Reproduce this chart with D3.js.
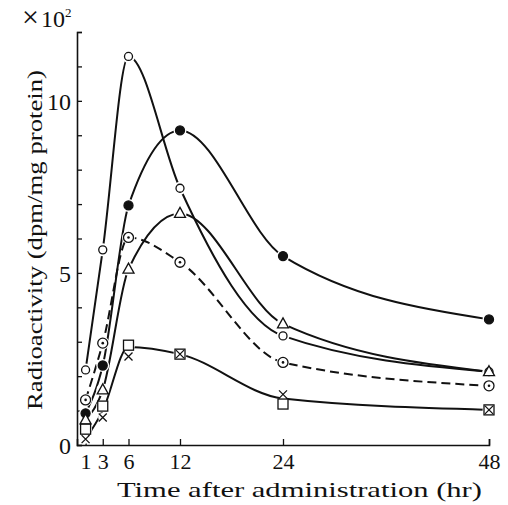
<!DOCTYPE html>
<html>
<head>
<meta charset="utf-8">
<script src="https://cdn.jsdelivr.net/npm/d3@7"></script>
<style>
  body { margin: 0; background: #fff; }
  svg text, svg tspan { font-family: "Liberation Serif", "DejaVu Serif", serif; fill: #111; }
</style>
</head>
<body>
<div class="canvas"></div>
<script>
// time points (hr) and values (x10^2 dpm/mg protein)
const hours = [1, 3, 6, 12, 24, 48];
const openCircle   = [2.18, 5.67, 11.29, 7.46, 3.17, 2.13];
const filledCircle = [0.92, 2.31, 6.96, 9.14, 5.49, 3.65];
const triangle     = [0.73, 1.60, 5.11, 6.73, 3.52, 2.13];
const dottedCircle = [1.31, 2.96, 6.03, 5.31, 2.40, 1.72];
const square       = [0.46, 1.13, 2.90, 2.64, 1.19, 1.02];
const cross        = [0.17, 0.80, 2.57, 2.64, 1.47, 1.02];
// one hand-fitted curve is drawn for both square and cross
const squareCrossFit = [0.17, 1.00, 2.85, 2.64, 1.35, 1.02];

const xTicks = [1, 3, 6, 12, 24, 48];
const yTicks = [0, 1, 2, 3, 4, 5, 6, 7, 8, 9, 10, 11, 12];
const yLabels = [0, 5, 10];

const width = 508, height = 505;

const svg = d3.select('.canvas')
    .append('svg')
    .attr('width', width)
    .attr('height', height);

// scales
const x = d3.scaleLinear().domain([0, 48]).range([77, 489]);
const y = d3.scaleLinear().domain([0, 12]).range([445, 32]);

// axes
const xAxis = d3.axisBottom(x).tickValues(xTicks).tickSize(-6).tickPadding(8).tickFormat(d3.format('d'));
const yAxis = d3.axisLeft(y).tickValues(yTicks).tickSize(-5).tickPadding(6)
    .tickFormat(d => yLabels.includes(d) ? d : '');

const xAxisGroup = svg.append('g')
    .attr('transform', `translate(0, ${y(0)})`)
    .call(xAxis);
const yAxisGroup = svg.append('g')
    .attr('transform', `translate(${x(0)}, 0)`)
    .call(yAxis);

[xAxisGroup, yAxisGroup].forEach(g => {
    g.attr('font-family', '"Liberation Serif", serif');
    g.select('.domain').attr('stroke', '#111').attr('stroke-width', 1.6);
    g.selectAll('.tick line').attr('stroke', '#111').attr('stroke-width', 1.3);
    g.selectAll('text').attr('fill', '#111');
});
xAxisGroup.attr('font-size', 22);
yAxisGroup.attr('font-size', 24);
yAxisGroup.selectAll('text').attr('dy', '0.35em');

// axis titles
svg.append('text')
    .attr('x', 117)
    .attr('y', 497)
    .attr('font-size', 22)
    .attr('textLength', 365)
    .attr('lengthAdjust', 'spacingAndGlyphs')
    .text('Time after administration (hr)');

svg.append('text')
    .attr('transform', 'translate(42, 410) rotate(-90)')
    .attr('font-size', 22)
    .attr('textLength', 340)
    .attr('lengthAdjust', 'spacingAndGlyphs')
    .text('Radioactivity (dpm/mg protein)');

// x10^2 unit
const unit = svg.append('text')
    .attr('x', 22)
    .attr('y', 27);
unit.append('tspan').attr('font-size', 30).text('×');
unit.append('tspan').attr('font-size', 24).attr('dx', 2).text('10');
unit.append('tspan').attr('dy', -10).attr('font-size', 13).text('2');

// curves
const line = d3.line()
    .x((d, i) => x(hours[i]))
    .y(d => y(d))
    .curve(d3.curveMonotoneX);

const curves = [
    { values: openCircle, dash: null },
    { values: filledCircle, dash: null },
    { values: triangle, dash: null },
    { values: dottedCircle, dash: '9,5' },
    { values: squareCrossFit, dash: null }
];

svg.append('g').selectAll('path')
    .data(curves)
    .enter().append('path')
    .attr('d', d => line(d.values))
    .attr('fill', 'none')
    .attr('stroke', '#111')
    .attr('stroke-width', 2)
    .attr('stroke-dasharray', d => d.dash);

// markers
const markerSets = [
    { values: openCircle, type: 'open' },
    { values: filledCircle, type: 'filled' },
    { values: triangle, type: 'triangle' },
    { values: dottedCircle, type: 'dotted' },
    { values: square, type: 'square' },
    { values: cross, type: 'cross' }
];

// white gaps around the markers, like the hand-drawn original
const halos = svg.append('g');
markerSets.forEach(s => {
    halos.selectAll(null)
        .data(s.values)
        .enter().append('circle')
        .attr('cx', (d, i) => x(hours[i]))
        .attr('cy', d => y(d))
        .attr('r', s.type === 'cross' ? 4.5 : 6.5)
        .attr('fill', '#fff');
});

const markers = svg.append('g')
    .attr('stroke', '#111')
    .attr('stroke-width', 1.3);

markerSets.forEach(s => {
    const g = markers.selectAll(null)
        .data(s.values)
        .enter().append('g')
        .attr('transform', (d, i) => `translate(${x(hours[i])}, ${y(d)})`);

    if (s.type === 'open') {
        g.append('circle').attr('r', 4).attr('fill', '#fff');
    } else if (s.type === 'filled') {
        g.append('circle').attr('r', 4.5).attr('fill', '#111');
    } else if (s.type === 'dotted') {
        g.append('circle').attr('r', 5).attr('fill', '#fff');
        g.append('circle').attr('r', 1.3).attr('fill', '#111').attr('stroke', 'none');
    } else if (s.type === 'triangle') {
        g.append('path').attr('d', 'M0,-6L5.5,4L-5.5,4Z').attr('fill', '#fff');
    } else if (s.type === 'square') {
        g.append('rect').attr('x', -5).attr('y', -5).attr('width', 10).attr('height', 10).attr('fill', '#fff');
    } else {
        g.append('path').attr('d', 'M-4,-4L4,4M-4,4L4,-4').attr('fill', 'none');
    }
});
</script>
</body>
</html>
